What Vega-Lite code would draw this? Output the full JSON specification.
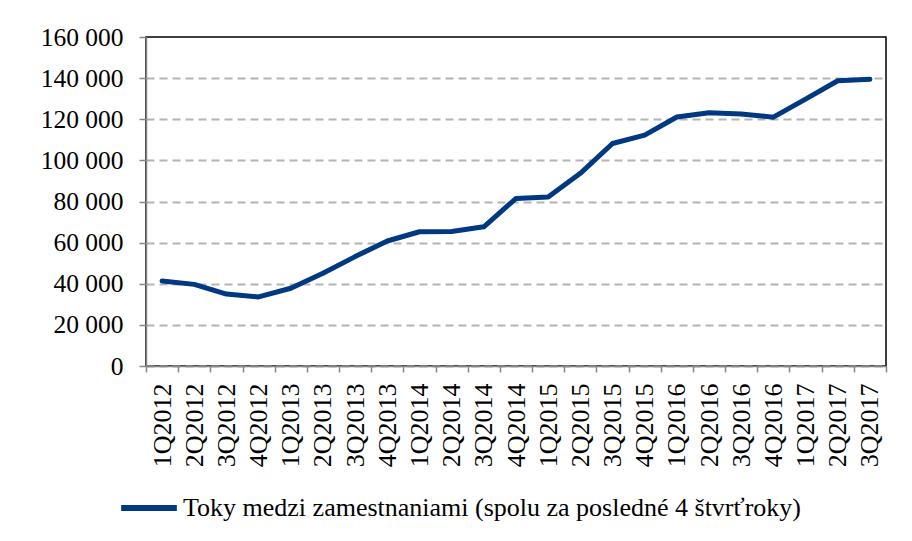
{
  "$schema": "https://vega.github.io/schema/vega-lite/v6.json",
  "autosize": {"type": "none"},
  "padding": {"left": 146, "top": 37, "right": 26, "bottom": 175},
  "width": 740,
  "height": 329,
  "background": "white",
  "data": {
    "values": [
      {"q": "1Q2012", "v": 41300, "s": "Toky medzi zamestnaniami (spolu za posledné 4 štvrťroky)"},
      {"q": "2Q2012", "v": 39700, "s": "Toky medzi zamestnaniami (spolu za posledné 4 štvrťroky)"},
      {"q": "3Q2012", "v": 35000, "s": "Toky medzi zamestnaniami (spolu za posledné 4 štvrťroky)"},
      {"q": "4Q2012", "v": 33600, "s": "Toky medzi zamestnaniami (spolu za posledné 4 štvrťroky)"},
      {"q": "1Q2013", "v": 37800, "s": "Toky medzi zamestnaniami (spolu za posledné 4 štvrťroky)"},
      {"q": "2Q2013", "v": 45100, "s": "Toky medzi zamestnaniami (spolu za posledné 4 štvrťroky)"},
      {"q": "3Q2013", "v": 53200, "s": "Toky medzi zamestnaniami (spolu za posledné 4 štvrťroky)"},
      {"q": "4Q2013", "v": 60800, "s": "Toky medzi zamestnaniami (spolu za posledné 4 štvrťroky)"},
      {"q": "1Q2014", "v": 65300, "s": "Toky medzi zamestnaniami (spolu za posledné 4 štvrťroky)"},
      {"q": "2Q2014", "v": 65400, "s": "Toky medzi zamestnaniami (spolu za posledné 4 štvrťroky)"},
      {"q": "3Q2014", "v": 67700, "s": "Toky medzi zamestnaniami (spolu za posledné 4 štvrťroky)"},
      {"q": "4Q2014", "v": 81500, "s": "Toky medzi zamestnaniami (spolu za posledné 4 štvrťroky)"},
      {"q": "1Q2015", "v": 82200, "s": "Toky medzi zamestnaniami (spolu za posledné 4 štvrťroky)"},
      {"q": "2Q2015", "v": 93700, "s": "Toky medzi zamestnaniami (spolu za posledné 4 štvrťroky)"},
      {"q": "3Q2015", "v": 108200, "s": "Toky medzi zamestnaniami (spolu za posledné 4 štvrťroky)"},
      {"q": "4Q2015", "v": 112300, "s": "Toky medzi zamestnaniami (spolu za posledné 4 štvrťroky)"},
      {"q": "1Q2016", "v": 121100, "s": "Toky medzi zamestnaniami (spolu za posledné 4 štvrťroky)"},
      {"q": "2Q2016", "v": 123200, "s": "Toky medzi zamestnaniami (spolu za posledné 4 štvrťroky)"},
      {"q": "3Q2016", "v": 122500, "s": "Toky medzi zamestnaniami (spolu za posledné 4 štvrťroky)"},
      {"q": "4Q2016", "v": 121000, "s": "Toky medzi zamestnaniami (spolu za posledné 4 štvrťroky)"},
      {"q": "1Q2017", "v": 129800, "s": "Toky medzi zamestnaniami (spolu za posledné 4 štvrťroky)"},
      {"q": "2Q2017", "v": 138700, "s": "Toky medzi zamestnaniami (spolu za posledné 4 štvrťroky)"},
      {"q": "3Q2017", "v": 139400, "s": "Toky medzi zamestnaniami (spolu za posledné 4 štvrťroky)"}
    ]
  },
  "mark": {"type": "line", "strokeWidth": 5, "strokeCap": "round", "strokeJoin": "round"},
  "encoding": {
    "x": {
      "field": "q",
      "type": "ordinal",
      "sort": null,
      "scale": {"type": "band", "paddingInner": 0, "paddingOuter": 0},
      "axis": {
        "title": null,
        "labelAngle": -90,
        "labelFont": "'Times New Roman', 'Liberation Serif', serif",
        "labelFontSize": 26,
        "labelColor": "black",
        "labelPadding": 11,
        "tickBand": "extent",
        "tickSize": 6,
        "tickColor": "#868686",
        "tickWidth": 1.5,
        "domainColor": "#868686",
        "domainWidth": 1.5,
        "grid": false,
        "zindex": 1
      }
    },
    "y": {
      "field": "v",
      "type": "quantitative",
      "scale": {"domain": [0, 160000], "nice": false},
      "axis": {
        "title": null,
        "values": [0, 20000, 40000, 60000, 80000, 100000, 120000, 140000, 160000],
        "labelExpr": "replace(format(datum.value, ','), ',', ' ')",
        "labelFont": "'Times New Roman', 'Liberation Serif', serif",
        "labelFontSize": 25.5,
        "labelColor": "black",
        "labelPadding": 16,
        "tickSize": 7,
        "tickColor": "#868686",
        "tickWidth": 1.5,
        "domainColor": "#868686",
        "domainWidth": 1.5,
        "grid": true,
        "gridColor": "#B4B4B4",
        "gridWidth": 1.8,
        "gridDash": [8, 5],
        "gridOpacity": {"condition": {"test": "datum.value >= 160000", "value": 0}, "value": 1},
        "zindex": 0
      }
    },
    "color": {
      "field": "s",
      "type": "nominal",
      "scale": {"range": ["#003882"]},
      "legend": {
        "title": null,
        "orient": "none",
        "legendX": -28,
        "legendY": 440,
        "padding": 0,
        "symbolType": "stroke",
        "symbolSize": 3100,
        "symbolStrokeWidth": 6,
        "labelFont": "'Times New Roman', 'Liberation Serif', serif",
        "labelFontSize": 26,
        "labelColor": "black",
        "labelOffset": 3,
        "labelLimit": 0
      }
    }
  },
  "config": {
    "view": {"stroke": "black", "strokeWidth": 1.5}
  }
}
